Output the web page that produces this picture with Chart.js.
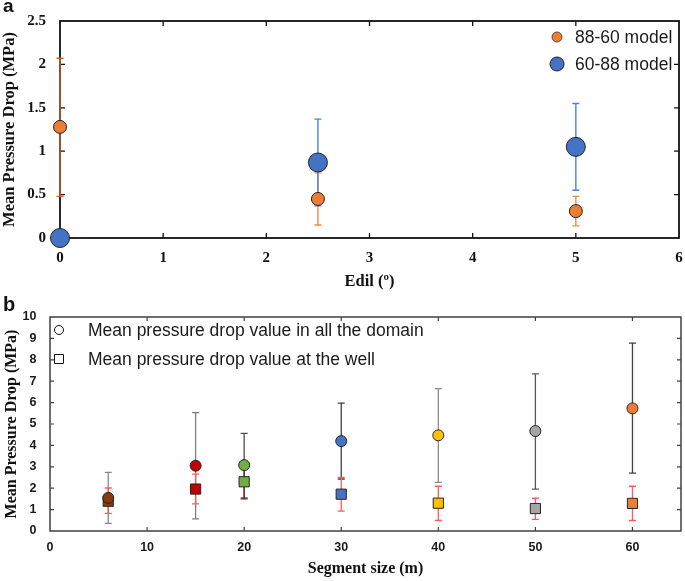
<!DOCTYPE html>
<html><head><meta charset="utf-8">
<script src="https://cdn.jsdelivr.net/npm/chart.js@4.4.0/dist/chart.umd.min.js"></script>
<style>
body{margin:0;background:#fff;width:685px;height:581px;position:relative;overflow:hidden}
canvas{position:absolute;left:0}
.lab{position:absolute;font-family:"Liberation Sans",Arial,sans-serif;font-weight:bold;line-height:1;color:#111}
</style></head><body>
<canvas id="ca" width="685" height="290" style="top:0;width:685px;height:290px"></canvas>
<canvas id="cb" width="685" height="291" style="top:290px;width:685px;height:291px"></canvas>
<div class="lab" style="left:3px;top:-4px;font-size:19px">a</div>
<div class="lab" style="left:3px;top:294px;font-size:20px">b</div>
<script>
// ---------- Panel a data ----------
const edil = [0, 2.5, 5];
const seriesA = ['88-60 model', '60-88 model'];
const m8860 = [1.28, 0.45, 0.31];
const m8860Lo = [0.48, 0.15, 0.14];
const m8860Hi = [2.07, 0.75, 0.48];
const m6088 = [0, 0.87, 1.05];
const m6088Lo = [null, 0.37, 0.55];
const m6088Hi = [null, 1.37, 1.55];

// ---------- Panel b data ----------
const segSize = [6, 15, 20, 30, 40, 50, 60];
const seriesB = ['Mean pressure drop value in all the domain', 'Mean pressure drop value at the well'];
const domainMean = [1.55, 3.05, 3.08, 4.20, 4.47, 4.67, 5.73];
const domainLo = [0.36, 0.57, 1.55, 2.43, 2.27, 1.96, 2.70];
const domainHi = [2.74, 5.53, 4.56, 5.98, 6.65, 7.34, 8.78];
const wellMean = [1.39, 1.96, 2.30, 1.72, 1.30, 1.05, 1.29];
const wellLo = [0.82, 1.27, 1.50, 0.93, 0.49, 0.54, 0.49];
const wellHi = [2.01, 2.66, 3.10, 2.50, 2.09, 1.53, 2.09];

// ---------- styles ----------
const pointColorsB = ['#843c0c', '#c00000', '#70ad47', '#4472c4', '#ffc000', '#a5a5a5', '#ed7d31'];
const domainErrColors = ['#8a8a8a', '#7f7f7f', '#4d4d4d', '#404040', '#8c8c8c', '#595959', '#404040'];
const wellErrColors = ['#ff5a5a', '#ff5a5a', '#8b1a1a', '#ff5a5a', '#ff5a5a', '#ff5a5a', '#ff5a5a'];

const SERIF = '"Liberation Serif", "Times New Roman", serif';
const SANS = '"Liberation Sans", Arial, sans-serif';

const pts = (xs, ys) => xs.map((x, i) => ({x: x, y: ys[i]}));

const framePlugin = {
  id: 'frame',
  beforeDatasetsDraw(chart, args, o) {
    const {ctx, chartArea: {left, right, top, bottom}, scales: {x, y}} = chart;
    ctx.save();
    ctx.strokeStyle = o.color;
    ctx.lineWidth = o.width;
    ctx.strokeRect(left, top, right - left, bottom - top);
    ctx.lineWidth = o.tickWidth;
    const L = o.tickLen;
    ctx.beginPath();
    x.ticks.forEach(t => {
      if (t.value <= x.min || t.value >= x.max) return;
      const px = x.getPixelForValue(t.value);
      ctx.moveTo(px, bottom); ctx.lineTo(px, bottom - L);
      ctx.moveTo(px, top); ctx.lineTo(px, top + L);
    });
    y.ticks.forEach(t => {
      if (t.value <= y.min || t.value >= y.max) return;
      const py = y.getPixelForValue(t.value);
      ctx.moveTo(left, py); ctx.lineTo(left + L, py);
      ctx.moveTo(right, py); ctx.lineTo(right - L, py);
    });
    ctx.stroke();
    ctx.restore();
  }
};

const errorBarPlugin = {
  id: 'errorBars',
  beforeDatasetsDraw(chart) {
    const {ctx, scales: {x, y}} = chart;
    chart.data.datasets.forEach(ds => {
      if (!ds.errLo) return;
      ctx.save();
      ctx.lineWidth = ds.errWidth;
      ds.data.forEach((p, i) => {
        const lo = ds.errLo[i], hi = ds.errHi[i];
        if (lo == null || hi == null) return;
        const px = x.getPixelForValue(p.x);
        const pl = y.getPixelForValue(lo), ph = y.getPixelForValue(hi);
        ctx.strokeStyle = Array.isArray(ds.errColor) ? ds.errColor[i] : ds.errColor;
        const w = ds.errCap;
        ctx.beginPath();
        ctx.moveTo(px, pl); ctx.lineTo(px, ph);
        ctx.moveTo(px - w, pl); ctx.lineTo(px + w, pl);
        ctx.moveTo(px - w, ph); ctx.lineTo(px + w, ph);
        ctx.stroke();
      });
      ctx.restore();
    });
  }
};

const legendPlugin = {
  id: 'inLegend',
  afterDatasetsDraw(chart, args, o) {
    const ctx = chart.ctx;
    ctx.save();
    chart.data.datasets.forEach((ds, i) => {
      const m = o.markers[i];
      const cy = o.y + i * o.dy;
      ctx.fillStyle = m.fill;
      ctx.strokeStyle = m.stroke;
      ctx.lineWidth = m.bw;
      ctx.beginPath();
      if (m.style === 'rect') ctx.rect(o.mx - m.r, cy - m.r, 2 * m.r, 2 * m.r);
      else ctx.arc(o.mx, cy, m.r, 0, Math.PI * 2);
      ctx.fill(); ctx.stroke();
      ctx.fillStyle = o.color;
      ctx.font = o.font;
      ctx.textBaseline = 'middle';
      ctx.textAlign = 'left';
      ctx.fillText(ds.label, o.tx, cy + 1);
    });
    ctx.restore();
  }
};

const noPadX = s => { s.paddingLeft = 0; s.paddingRight = 0; };
const noPadY = s => { s.paddingTop = 0; s.paddingBottom = 0; };

// ---------- Chart a ----------
new Chart(document.getElementById('ca'), {
  type: 'scatter',
  data: {
    datasets: [
      {
        label: seriesA[0], data: pts(edil, m8860),
        backgroundColor: '#ed7d31', borderColor: '#222', borderWidth: 1, pointRadius: 6.5,
        errLo: m8860Lo, errHi: m8860Hi, errColor: ['#c8652c', '#f08a4b', '#f08a4b'], errWidth: 1.4, errCap: 3.5,
        clip: false
      },
      {
        label: seriesA[1], data: pts(edil, m6088),
        backgroundColor: '#4472c4', borderColor: '#222', borderWidth: 1, pointRadius: 9.5,
        errLo: m6088Lo, errHi: m6088Hi, errColor: '#4a86d8', errWidth: 1.4, errCap: 3.5,
        clip: false
      }
    ]
  },
  options: {
    responsive: false, animation: false, devicePixelRatio: 1,
    layout: {autoPadding: false, padding: {top: 21, right: 6, left: 0, bottom: 0}},
    plugins: {
      legend: {display: false}, tooltip: {enabled: false},
      frame: {color: '#111', width: 1.8, tickWidth: 1.3, tickLen: 5},
      inLegend: {
        mx: 557, tx: 575, y: 37, dy: 27, color: '#1a1a1a', font: '17.5px ' + SANS,
        markers: [
          {style: 'circle', r: 5, fill: '#ed7d31', stroke: '#333', bw: 0.8},
          {style: 'circle', r: 7, fill: '#4472c4', stroke: '#222', bw: 1}
        ]
      }
    },
    scales: {
      x: {
        type: 'linear', min: 0, max: 6,
        grid: {display: false, drawTicks: false}, border: {display: false},
        ticks: {stepSize: 1, padding: 11, color: '#111', font: {family: SERIF, weight: 'bold', size: 15}},
        title: {display: true, text: 'Edil (º)', color: '#111', padding: {top: 0, bottom: 0},
                font: {family: SERIF, weight: 'bold', size: 16.5, lineHeight: 1}},
        afterFit: s => { s.height = 52; noPadX(s); }
      },
      y: {
        type: 'linear', min: 0, max: 2.5,
        grid: {display: false, drawTicks: false}, border: {display: false},
        ticks: {stepSize: 0.5, padding: 14, color: '#111', callback: v => String(v),
                font: {family: SERIF, weight: 'bold', size: 15}},
        title: {display: true, text: 'Mean Pressure Drop (MPa)', color: '#111', padding: {top: 1, bottom: 0},
                font: {family: SERIF, weight: 'bold', size: 16.5, lineHeight: 1}},
        afterFit: s => { s.width = 60; noPadY(s); }
      }
    }
  },
  plugins: [framePlugin, errorBarPlugin, legendPlugin]
});

// ---------- Chart b ----------
new Chart(document.getElementById('cb'), {
  type: 'scatter',
  data: {
    datasets: [
      {
        label: seriesB[0], data: pts(segSize, domainMean), pointStyle: 'circle',
        backgroundColor: pointColorsB, borderColor: '#262626', borderWidth: 1, pointRadius: 5.5,
        errLo: domainLo, errHi: domainHi, errColor: domainErrColors, errWidth: 1.3, errCap: 3.5,
        clip: false
      },
      {
        label: seriesB[1], data: pts(segSize, wellMean), pointStyle: 'rect',
        backgroundColor: pointColorsB, borderColor: '#262626', borderWidth: 1, pointRadius: 7.2,
        errLo: wellLo, errHi: wellHi, errColor: wellErrColors, errWidth: 1.3, errCap: 3.5,
        clip: false
      }
    ]
  },
  options: {
    responsive: false, animation: false, devicePixelRatio: 1,
    layout: {autoPadding: false, padding: {top: 27, right: 4, left: 0, bottom: 0}},
    plugins: {
      legend: {display: false}, tooltip: {enabled: false},
      frame: {color: '#404040', width: 1.5, tickWidth: 1.2, tickLen: 4},
      inLegend: {
        mx: 59, tx: 88, y: 40, dy: 29, color: '#1a1a1a', font: '17.5px ' + SANS,
        markers: [
          {style: 'circle', r: 4.5, fill: '#fff', stroke: '#111', bw: 1},
          {style: 'rect', r: 4.5, fill: '#fff', stroke: '#111', bw: 1}
        ]
      }
    },
    scales: {
      x: {
        type: 'linear', min: 0, max: 65,
        afterBuildTicks: s => { s.ticks = s.ticks.filter(t => t.value <= 60); },
        grid: {display: false, drawTicks: false}, border: {display: false},
        ticks: {stepSize: 10, padding: 9.5, color: '#1a1a1a', font: {family: SANS, weight: 'bold', size: 12.5}},
        title: {display: true, text: 'Segment size (m)', color: '#111', padding: {top: 0, bottom: 4},
                font: {family: SERIF, weight: 'bold', size: 16, lineHeight: 1}},
        afterFit: s => { s.height = 50; noPadX(s); }
      },
      y: {
        type: 'linear', min: 0, max: 10,
        grid: {display: false, drawTicks: false}, border: {display: false},
        ticks: {stepSize: 1, padding: 13.5, color: '#1a1a1a', font: {family: SANS, weight: 'bold', size: 12.5}},
        title: {display: true, text: 'Mean Pressure Drop (MPa)', color: '#111', padding: {top: 4, bottom: 0},
                font: {family: SERIF, weight: 'bold', size: 16, lineHeight: 1}},
        afterFit: s => { s.width = 50; noPadY(s); }
      }
    }
  },
  plugins: [framePlugin, errorBarPlugin, legendPlugin]
});
</script>
</body></html>
